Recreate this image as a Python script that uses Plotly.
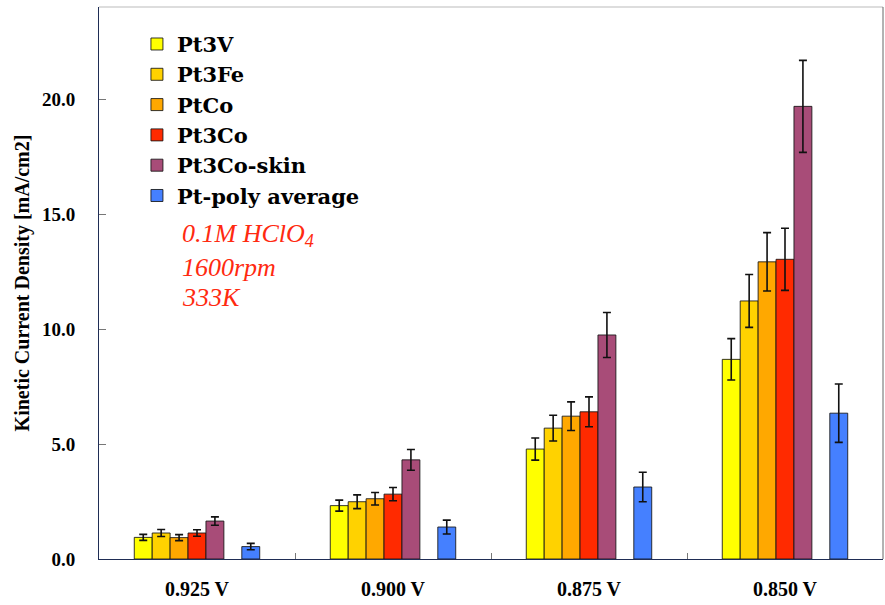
import plotly.graph_objects as go

categories = ["0.925 V", "0.900 V", "0.875 V", "0.850 V"]

series_names = ["Pt3V", "Pt3Fe", "PtCo", "Pt3Co", "Pt3Co-skin", "Pt-poly average"]
pt3v = [0.94, 2.32, 4.78, 8.68]
pt3v_err = [0.13, 0.24, 0.48, 0.90]
pt3fe = [1.13, 2.49, 5.69, 11.22]
pt3fe_err = [0.15, 0.30, 0.56, 1.15]
ptco = [0.93, 2.62, 6.21, 12.92]
ptco_err = [0.13, 0.27, 0.62, 1.27]
pt3co = [1.13, 2.82, 6.40, 13.03]
pt3co_err = [0.14, 0.29, 0.65, 1.35]
pt3co_skin = [1.65, 4.31, 9.74, 19.68]
pt3co_skin_err = [0.18, 0.45, 0.98, 2.00]
pt_poly = [0.54, 1.39, 3.13, 6.34]
pt_poly_err = [0.14, 0.30, 0.64, 1.27]

y_ticks = [0, 5, 10, 15, 20]

fills = ["#FFFF00", "#FFD200", "#FFA800", "#FF2A00", "#A84C78", "#4580FF"]
values = [pt3v, pt3fe, ptco, pt3co, pt3co_skin, pt_poly]
errors = [pt3v_err, pt3fe_err, ptco_err, pt3co_err, pt3co_skin_err, pt_poly_err]

fig = go.Figure()
for i, (name, vals, errs, col) in enumerate(zip(series_names, values, errors, fills)):
    if i == 5:
        # empty slot between the alloy bars and the Pt-poly bar
        fig.add_trace(go.Bar(x=categories, y=[0] * len(categories), showlegend=False,
                             marker=dict(color="rgba(0,0,0,0)", line=dict(width=0)),
                             hoverinfo="skip"))
    fig.add_trace(go.Bar(
        x=categories, y=vals, name=name, legendgroup=name,
        marker=dict(color=col, line=dict(color="rgba(20,20,20,0.85)", width=1)),
        error_y=dict(type="data", array=errs, visible=True, color="#111111",
                     thickness=1.6, width=4),
    ))

serif = "Liberation Serif, Times New Roman, serif"
wide_serif = "DejaVu Serif, serif"

fig.update_layout(
    width=885, height=605,
    margin=dict(l=99, r=2, t=7, b=46, autoexpand=False),
    paper_bgcolor="white", plot_bgcolor="white",
    barmode="group", bargap=0.36, bargroupgap=0,
    showlegend=True,
    legend=dict(x=0.0484, y=0.9695, xanchor="left", yanchor="top",
                bgcolor="rgba(0,0,0,0)", traceorder="normal", tracegroupgap=3,
                font=dict(family=wide_serif, size=21, color="black", weight="bold")),
    xaxis=dict(type="category", showline=True, linecolor="#1f2d55", linewidth=1,
               ticks="inside", tickson="boundaries", ticklen=6, tickcolor="#777777",
               tickfont=dict(family=serif, size=20, color="black", weight="bold"),
               ticklabelstandoff=12, showgrid=False, zeroline=False, automargin=False),
    yaxis=dict(range=[0, 24], tickvals=y_ticks, tickformat=".1f",
               showline=True, linecolor="#1f2d55", linewidth=1,
               ticks="inside", ticklen=7, tickcolor="#777777",
               tickfont=dict(family=serif, size=19, color="black", weight="bold"),
               ticklabelstandoff=19, showgrid=False, zeroline=False, automargin=False,
               title=dict(text="Kinetic Current Density [mA/cm2]", standoff=6,
                          font=dict(family=serif, size=20, color="black", weight="bold"))),
    shapes=[
        dict(type="line", xref="paper", yref="paper", x0=0, x1=1, y0=1, y1=1,
             line=dict(color="#bbbbbb", width=1)),
        dict(type="line", xref="paper", yref="paper", x0=1, x1=1, y0=0, y1=1,
             line=dict(color="#666666", width=1)),
    ],
)

red = "#FF2A10"
for txt, ypix in [("0.1M HClO<sub>4</sub>", 235), ("1600rpm", 268), ("333K", 298)]:
    fig.add_annotation(xref="paper", yref="paper", x=(180 - 99) / 784,
                       y=(559.4 - ypix) / 552.4, xanchor="left", yanchor="middle",
                       text=txt, showarrow=False,
                       font=dict(family=serif, size=26, color=red, style="italic"))

fig.write_html("out.html", config={"displayModeBar": False},
               post_script="document.body.style.margin='0';document.body.style.padding='0';")
